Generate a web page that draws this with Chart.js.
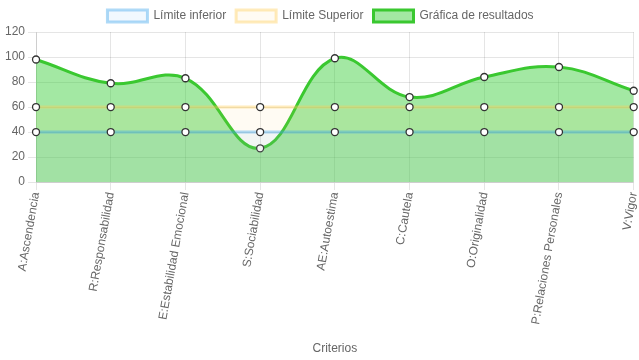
<!DOCTYPE html>
<html><head><meta charset="utf-8">
<script src="https://cdn.jsdelivr.net/npm/chart.js@4"></script>
<style>html,body{margin:0;padding:0;background:#fff}#w{width:639px;height:360px}</style>
</head><body><div id="w"><canvas id="c"></canvas></div>
<script>
const categories = ["A:Ascendencia","R:Responsabilidad","E:Estabilidad Emocional","S:Sociabilidad","AE:Autoestima","C:Cautela","O:Originalidad","P:Relaciones Personales","V:Vigor"];
const limiteInferior = [40,40,40,40,40,40,40,40,40];
const limiteSuperior = [60,60,60,60,60,60,60,60,60];
const resultados = [98,79,83,27,99,68,84,92,73];
const yTicks = [0,20,40,60,80,100,120];

Chart.defaults.font.family = "'Liberation Sans', Arial, sans-serif";
Chart.defaults.font.size = 12;
Chart.defaults.color = "#666";

const pt = {pointBackgroundColor:"#fff", pointBorderColor:"#333", pointBorderWidth:1.3, pointRadius:3.5};
new Chart(document.getElementById("c"), {
  type: "line",
  data: {
    labels: categories,
    datasets: [
      Object.assign({label:"Límite inferior", data:limiteInferior, borderColor:"rgba(54,162,235,0.4)", backgroundColor:"rgba(54,162,235,0.07)", borderWidth:3, fill:true, tension:0.4}, pt),
      Object.assign({label:"Límite Superior", data:limiteSuperior, borderColor:"rgba(255,205,86,0.4)", backgroundColor:"rgba(255,205,86,0.07)", borderWidth:3, fill:true, tension:0.4}, pt),
      Object.assign({label:"Gráfica de resultados", data:resultados, borderColor:"rgb(58,200,48)", backgroundColor:"rgba(50,205,50,0.45)", borderWidth:3, fill:true, tension:0.4}, pt)
    ]
  },
  options: {
    responsive:true, maintainAspectRatio:false, animation:false,
    layout:{padding:{left:2,right:0}},
    plugins:{legend:{position:"top", labels:{boxWidth:40, boxHeight:12, padding:10}}},
    scales:{
      x:{title:{display:true,text:"Criterios",padding:{top:15,bottom:4}}, ticks:{maxRotation:80,minRotation:80,padding:1},
         grid:{color:"rgba(0,0,0,0.1)"}, afterFit:(s)=>{s.paddingRight=4;}},
      y:{min:0,max:120, afterBuildTicks:(s)=>{s.ticks=yTicks.map(v=>({value:v}));}, grid:{color:"rgba(0,0,0,0.1)"}}
    }
  }
});
</script></body></html>
